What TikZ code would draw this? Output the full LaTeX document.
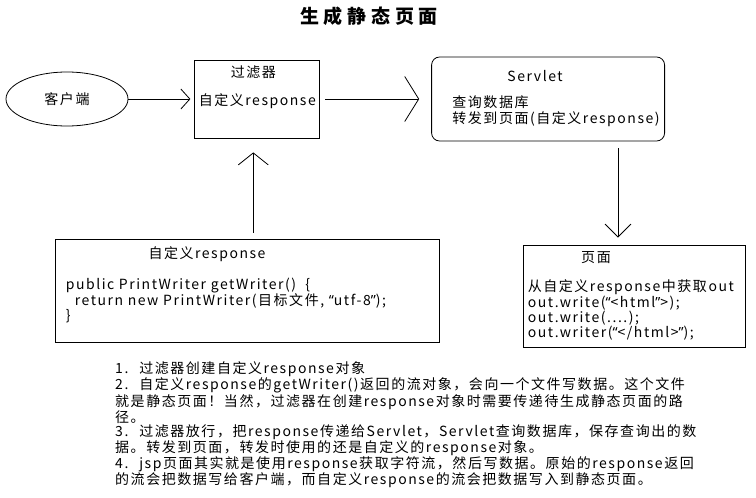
\documentclass[tikz,border=0pt]{standalone}
\usepackage{fontspec}
\setmainfont{Noto Sans CJK SC}[LetterSpace=11]
\newfontfamily\latinfont{Noto Sans}[LetterSpace=11]
\newfontfamily\titlefont{Noto Sans CJK SC}[LetterSpace=25]
\newcommand{\oq}{{\latinfont “}}
\newcommand{\cq}{{\latinfont ”}}
\usetikzlibrary{positioning,shapes.geometric,arrows.meta}

\begin{document}
\begin{tikzpicture}[x=1pt, y=-1pt]
   \tikzset{
     box/.style  = { draw, line width = 0.8pt, inner sep = 0pt },
     txt/.style  = { font       = \fontsize{14}{14.5}\selectfont,
                     inner sep  = 0pt,
                     align      = left },
     arr/.style  = { draw, line width = 0.8pt,
                     -{Straight Barb[length = 10pt, width = 22pt]} },
  }

  \useasboundingbox (0,0) rectangle (756,498);

  \node [font = \titlefont\fontsize{19}{19}\selectfont\bfseries] (Title) at (369,16)
    {生成静态页面};

  % top row
  \node [box, txt, ellipse, minimum width = 122pt, minimum height = 54pt]
    (Client) at (67,99) {客户端};

  \node [box, minimum width = 125pt, minimum height = 78pt,
         right = 66pt of Client] (Filter) {};
  \node [txt] (FilterTitle) at ([xshift=-4pt, yshift=-13pt]Filter.north) {过滤器};
  \node [txt] (FilterText)  at ([yshift=-2pt]Filter.center) {自定义response};

  \node [box, rounded corners = 8pt, minimum width = 233pt, minimum height = 84pt,
         right = 111pt of Filter] (Servlet) {};
  \node [txt] (ServletTitle) at ([xshift=-13pt, yshift=-19pt]Servlet.north) {Servlet};
  \node [txt, font = \fontsize{14}{16}\selectfont, anchor = west] (ServletText)
    at ([xshift=21pt, yshift=-12pt]Servlet.west)
    {查询数据库\\转发到页面(自定义response)};

  % bottom row
  \node [box, minimum width = 384pt, minimum height = 103pt] (Custom) at (247,290.5) {};
  \node [txt] (CustomTitle) at ([xshift=-40pt, yshift=-16pt]Custom.north) {自定义response};
  \node [txt, font = \fontsize{14}{13.5}\selectfont, anchor = west] (CustomCode)
    at ([xshift=11pt, yshift=-10pt]Custom.west)
    {public PrintWriter getWriter()~ \{\\
     \hspace{9pt}return new PrintWriter(目标文件, \oq utf-8\cq);\\
     \}};

  \node [box, minimum width = 222pt, minimum height = 102pt] (Page) at (634,296) {};
  \node [txt] (PageTitle) at ([xshift=-38pt, yshift=-13pt]Page.north) {页面};
  \node [txt, font = \fontsize{14}{14}\selectfont, anchor = west] (PageCode)
    at ([xshift=5pt, yshift=-14pt]Page.west)
    {从自定义response中获取out\\
     out.write(\oq<html\cq>);\\
     out.write(....);\\
     out.writer(\oq</html>\cq);};

  \node [txt, anchor = west] (Notes) at (115,425)
    {1.~ 过滤器创建自定义response对象\\
     2.~ 自定义response的getWriter()返回的流对象，会向一个文件写数据。这个文件\\
     就是静态页面！当然，过滤器在创建response对象时需要传递待生成静态页面的路\\
     径。\\
     3.~ 过滤器放行，把response传递给Servlet，Servlet查询数据库，保存查询出的数\\
     据。转发到页面，转发时使用的还是自定义的response对象。\\
     4.~ jsp页面其实就是使用response获取字符流，然后写数据。原始的response返回\\
     的流会把数据写给客户端，而自定义response的流会把数据写入到静态页面。};

  % connectors
  \draw [arr, -{Straight Barb[length = 9pt, width = 20pt]}, shorten >= 4pt]
    (Client) -- (Filter);
  \draw [arr, -{Straight Barb[length = 14pt, width = 45pt]},
         shorten <= 5pt, shorten >= 12pt] (Filter) -- (Servlet);
  \draw [arr, -{Straight Barb[length = 12pt, width = 30pt]},
         shorten <= 6pt, shorten >= 14pt]
    ([xshift=-4pt]Filter.south |- Custom.north) -- ([xshift=-4pt]Filter.south);
  \draw [arr, -{Straight Barb[length = 13pt, width = 26pt]},
         shorten <= 7pt, shorten >= 7pt]
    ([xshift=-16pt]Page.north |- Servlet.south) -- ([xshift=-16pt]Page.north);

\end{tikzpicture}
\end{document}
